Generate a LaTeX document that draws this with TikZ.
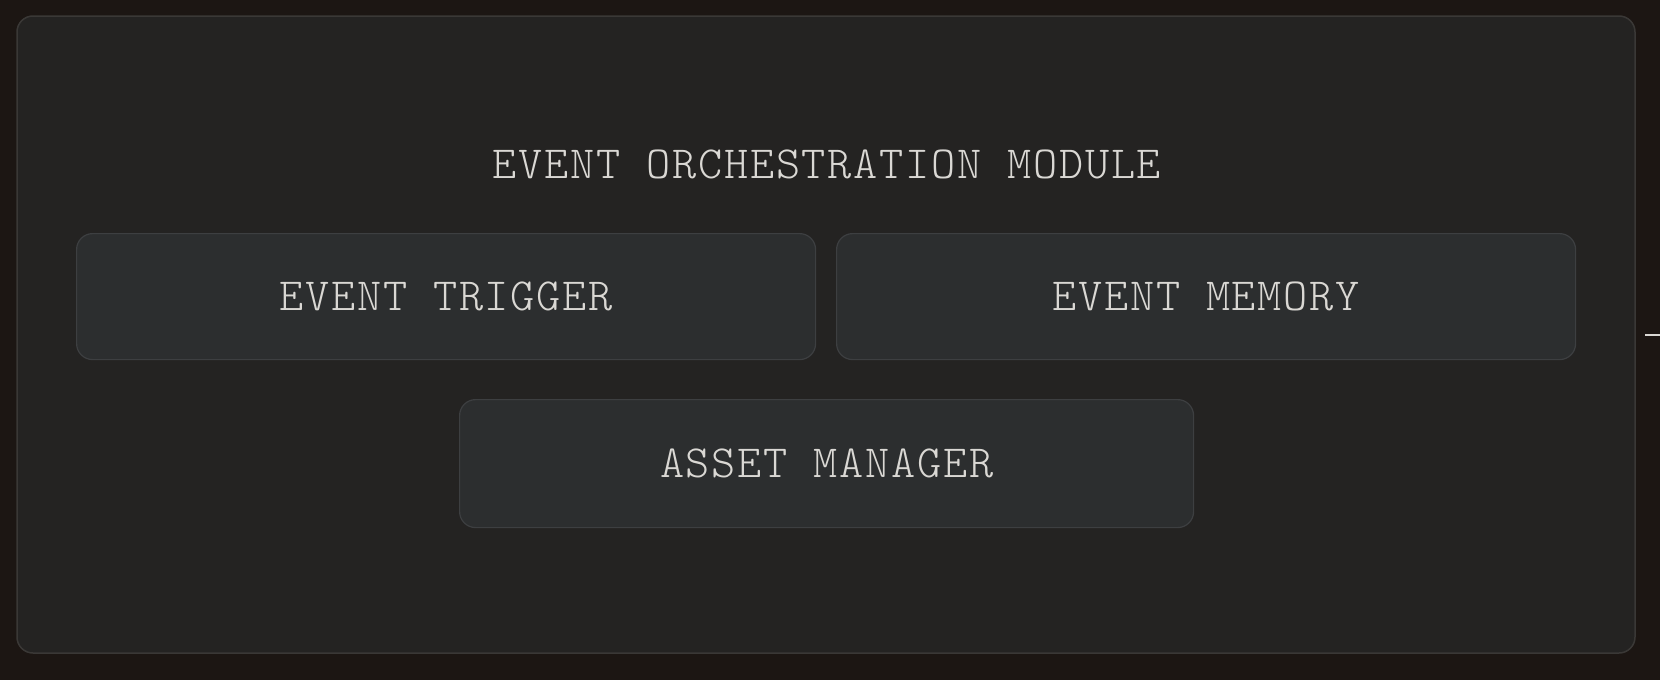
\documentclass[tikz,border=0pt]{standalone}
\usepackage{fontspec}
\setmonofont{Latin Modern Mono Light}
\definecolor{backdrop}{HTML}{1C1613}
\definecolor{panelfill}{HTML}{242322}
\definecolor{paneledge}{HTML}{3A3836}
\definecolor{cardfill}{HTML}{2C2E2F}
\definecolor{cardedge}{HTML}{3D3F41}
\definecolor{inktext}{HTML}{DAD8D4}
\begin{document}
\begin{tikzpicture}[x=1pt,y=-1pt,
  label text/.style={text=inktext, font=\fontsize{46}{50}\selectfont\ttfamily\addfontfeatures{LetterSpace=3.8}},
  card/.style={draw=cardedge, fill=cardfill, rounded corners=16pt, line width=1.2pt, inner sep=0pt, anchor=north west, label text}]
\useasboundingbox (0,0) rectangle (1660,680);
\fill[backdrop] (0,0) rectangle (1660,680);
\draw[fill=panelfill, draw=paneledge, line width=1.5pt, rounded corners=16pt] (17,16) rectangle (1635,653);
\node[label text] (title) at (827,164) {EVENT ORCHESTRATION MODULE};
\node[card, minimum width=739pt, minimum height=126pt] (trigger) at (76,233) {EVENT TRIGGER};
\node[card, minimum width=739pt, minimum height=126pt] (memory) at (836,233) {EVENT MEMORY};
\node[card, minimum width=734pt, minimum height=128pt] (assets) at (459,399) {ASSET MANAGER};
% small tick at the right edge
\draw[inktext, line width=2pt] (1645,335) -- (1660,335);
\end{tikzpicture}
\end{document}
